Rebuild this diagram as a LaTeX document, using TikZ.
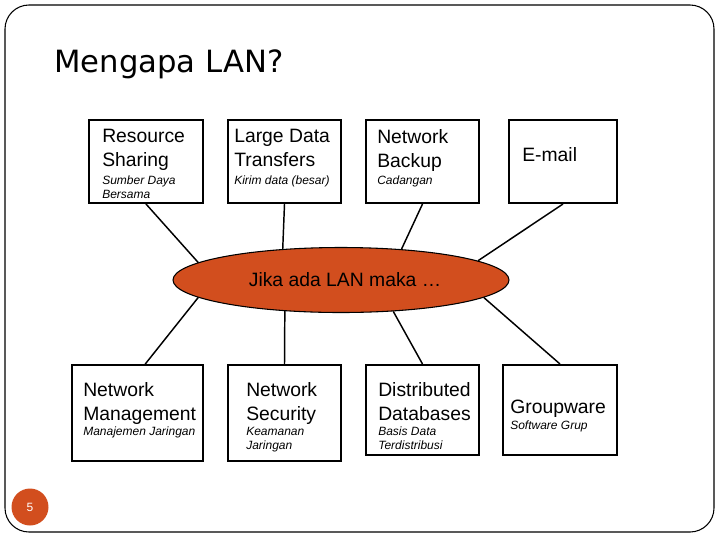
\documentclass[tikz,border=0pt]{standalone}
\usepackage{fontspec}
\setmainfont{Liberation Sans}
\newfontfamily\titlefont{DejaVu Sans}
\usetikzlibrary{shapes.geometric,fit}
\definecolor{lanorange}{RGB}{210,78,30}

\begin{document}
\begin{tikzpicture}[x=0.75pt, y=-0.75pt,
    topic/.style={draw, line width=1.5pt, inner sep=0pt},
    heading/.style={anchor=north west, inner sep=0pt, align=left, font=\fontsize{14.5}{18}\selectfont},
    subhead/.style={anchor=north west, inner sep=0pt, align=left, font=\fontsize{9}{10.5}\selectfont\itshape},
    link/.style={line width=1.1pt}]
	\useasboundingbox (0,0) rectangle (720,540);
	
	% ==================== FRAME AND TITLE ====================
	\draw[rounded corners=18pt, line width=0.8pt] (5,5) rectangle (714,532);
	\node[anchor=base west, inner sep=0pt, font=\titlefont\fontsize{23}{28}\selectfont] (title) at (54,72) {Mengapa LAN?};
	
	% ==================== TOP ROW ====================
	\node[topic, fit={(89,120) (203,203)}] (share) {};
	\node[heading] (shareT) at (102,129) {Resource\\Sharing};
	\node[subhead] (shareS) at (102,176) {Sumber Daya\\Bersama};
	
	\node[topic, fit={(228,120) (341,203)}] (bulk) {};
	\node[heading] (bulkT) at (234,129) {Large Data\\Transfers};
	\node[subhead] (bulkS) at (234,176) {Kirim data (besar)};
	
	\node[topic, fit={(366,120) (479,203)}] (backup) {};
	\node[heading] (backupT) at (377,129) {Network\\Backup};
	\node[subhead] (backupS) at (377,176) {Cadangan};
	
	\node[topic, fit={(509,120) (617,203)}] (mail) {};
	\node[heading] (mailT) at (522,147) {E-mail};
	
	% ==================== CENTRE ====================
	\node[ellipse, draw, fill=lanorange, line width=0.8pt, inner sep=0pt,
	      minimum width=252pt, minimum height=48.75pt, font=\fontsize{14.5}{18}\selectfont] (lan) at (341,280) {\hspace{6pt}Jika ada LAN maka …};
	
	% ==================== BOTTOM ROW ====================
	\node[topic, fit={(72,365) (203,461)}] (mgmt) {};
	\node[heading] (mgmtT) at (83,382) {Network\\Management};
	\node[subhead] (mgmtS) at (83,427) {Manajemen Jaringan};
	
	\node[topic, fit={(228,365) (341,461)}] (secure) {};
	\node[heading] (secureT) at (246,382) {Network\\Security};
	\node[subhead] (secureS) at (246,427) {Keamanan\\Jaringan};
	
	\node[topic, fit={(366,365) (479,455)}] (dist) {};
	\node[heading] (distT) at (378,382) {Distributed\\Databases};
	\node[subhead] (distS) at (378,427) {Basis Data\\Terdistribusi};
	
	\node[topic, fit={(503,365) (617,455)}] (group) {};
	\node[heading] (groupT) at (510,400) {Groupware};
	\node[subhead] (groupS) at (510,421) {Software Grup};
	
	% ==================== CONNECTORS ====================
	\draw[link] (share.south) -- (lan.173);
	\draw[link] (bulk.south) -- (lan.152);
	\draw[link] (backup.south) -- (lan.27);
	\draw[link] (mail.south) -- (lan.8);
	\draw[link] (lan.187) -- (mgmt.81);
	\draw[link] (lan.209) -- (secure.north);
	\draw[link] (lan.329) -- (dist.north);
	\draw[link] (lan.353) -- (group.north);
	
	% page number
	\node[circle, fill=lanorange, minimum size=27.75pt, inner sep=0pt, text=white,
	      font=\fontsize{9}{10}\selectfont] (pagenum) at (30,507) {5};
\end{tikzpicture}
\end{document}
